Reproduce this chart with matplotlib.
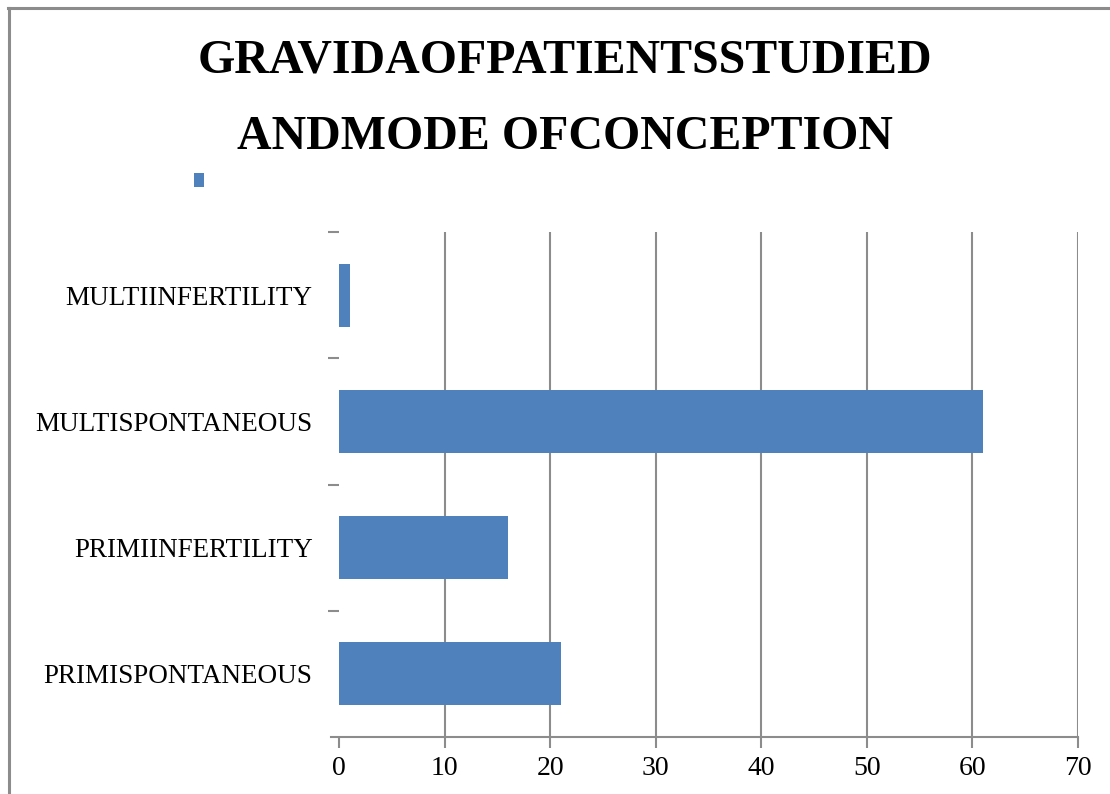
import matplotlib.pyplot as plt
from matplotlib.patches import Rectangle
from matplotlib.lines import Line2D

categories = ['PRIMISPONTANEOUS', 'PRIMIINFERTILITY', 'MULTISPONTANEOUS', 'MULTIINFERTILITY']
counts = [21, 16, 61, 1]
x_ticks = [0, 10, 20, 30, 40, 50, 60, 70]
title = 'GRAVIDAOFPATIENTSSTUDIED\nANDMODE OFCONCEPTION'

BLUE = '#4f81bd'
GREY = '#8c8c8c'

plt.rcParams['font.family'] = ['Liberation Serif', 'DejaVu Serif']

fig = plt.figure(figsize=(11.1, 7.94), dpi=100)
fig.patch.set_facecolor('white')

# outer chart border (only top and left visible in the crop)
fig.add_artist(Line2D([8 / 1110, 1.0], [1 - 7.5 / 794, 1 - 7.5 / 794], color=GREY, lw=2.2))
fig.add_artist(Line2D([8.5 / 1110, 8.5 / 1110], [0, 1 - 7.5 / 794], color=GREY, lw=2.2))

ax = fig.add_axes([339 / 1110, 57 / 794, 739 / 1110, 505 / 794])
ypos = list(range(len(categories)))
ax.barh(ypos, counts, height=0.5, color=BLUE, zorder=3)

ax.set_xlim(0, 70)
ax.set_ylim(-0.5, len(categories) - 0.5)
ax.set_xticks(x_ticks)
ax.set_xticklabels([str(t) for t in x_ticks], fontsize=20)
ax.tick_params(axis='x', length=8, width=1.5, color=GREY, pad=6)
ax.xaxis.grid(True, color=GREY, lw=1.5, zorder=0)
ax.get_xgridlines()[0].set_visible(False)

ax.set_yticks(ypos)
ax.set_yticklabels(categories, fontsize=19.5)
ax.tick_params(axis='y', length=0, pad=19)
ax.set_yticks([y + 0.5 for y in ypos], minor=True)
ax.tick_params(axis='y', which='minor', length=8, width=1.5, color=GREY)

for s in ['top', 'right', 'left']:
    ax.spines[s].set_visible(False)
ax.spines['bottom'].set_color(GREY)
ax.spines['bottom'].set_linewidth(1.5)
ax.spines['bottom'].set_bounds(-0.8, 70)

fig.text(565 / 1110, 1 - 98.5 / 794, title, ha='center', va='center', fontsize=34.5,
         fontweight='bold', linespacing=1.95)

# legend marker (its label is not legible in the source)
fig.add_artist(Rectangle((194 / 1110, 1 - 187 / 794), 10 / 1110, 14 / 794,
                         facecolor=BLUE, edgecolor='none'))

fig.savefig('out.png', dpi=100)
